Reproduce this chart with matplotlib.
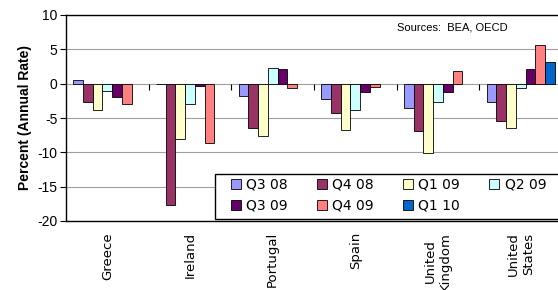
import numpy as np
import matplotlib
matplotlib.use("Agg")
import matplotlib.pyplot as plt
from matplotlib.patches import Rectangle

plt.rcParams["axes.unicode_minus"] = False

countries = ["Greece", "Ireland", "Portugal", "Spain", "United\nKingdom", "United\nStates"]
series_names = ["Q3 08", "Q4 08", "Q1 09", "Q2 09", "Q3 09", "Q4 09", "Q1 10"]
nan = np.nan
q3_08 = [0.5, -0.1, -1.8, -2.3, -3.6, -2.7]
q4_08 = [-2.7, -17.6, -6.4, -4.2, -6.9, -5.4]
q1_09 = [-3.9, -8.0, -7.6, -6.7, -10.1, -6.4]
q2_09 = [-1.1, -2.9, 2.3, -3.8, -2.7, -0.7]
q3_09 = [-1.9, -0.3, 2.2, -1.2, -1.2, 2.2]
q4_09 = [-3.0, -8.6, -0.7, -0.55, 1.8, 5.6]
q1_10 = [nan, nan, nan, nan, nan, 3.2]
series = [q3_08, q4_08, q1_09, q2_09, q3_09, q4_09, q1_10]
colors = ["#9999FF", "#993366", "#FFFFCC", "#CCFFFF", "#660066", "#FF8080", "#0066CC"]

W, H = 558, 290
fig = plt.figure(figsize=(W / 100, H / 100), dpi=100)
left, right, top, bottom = 66, 562, 15, 221
ax = fig.add_axes([left / W, 1 - bottom / H, (right - left) / W, (bottom - top) / H])

n = len(series)
gap = 1.5
bw = 1.0 / (n + gap)
x = np.arange(len(countries))
handles = []
for i, (vals, c, name) in enumerate(zip(series, colors, series_names)):
    off = (i - (n - 1) / 2) * bw
    b = ax.bar(x + off, vals, width=bw, color=c, edgecolor="black", linewidth=0.6,
               label=name, zorder=3)
    handles.append(b)

ax.set_xlim(-0.5, len(countries) - 0.5)
ax.set_ylim(-20, 10)
ax.set_yticks(np.arange(-20, 11, 5))
ax.yaxis.grid(True, color="#A0A0A0", linewidth=0.8, zorder=0)
ax.set_axisbelow(True)
for s in ["left", "bottom", "top"]:
    ax.spines[s].set_color("black")
    ax.spines[s].set_linewidth(1.0)
ax.spines["right"].set_visible(False)

ax.tick_params(axis="y", direction="out", length=4, width=0.8, labelsize=10, pad=2)
for t in ax.get_yticklabels():
    t.set_fontfamily("Liberation Sans")
ax.set_xticks(x)
ax.set_xticklabels(countries, rotation=90, fontsize=9.5, family="DejaVu Sans",
                   va="top", ha="center", multialignment="center")
ax.tick_params(axis="x", length=0, pad=8)

# zero line with category-boundary ticks
sec = ax.secondary_xaxis(20 / 30)
sec.set_xticks(np.arange(0.5, len(countries) - 0.5, 1.0))
sec.tick_params(axis="x", direction="out", length=4, width=0.8, labelbottom=False,
                labeltop=False, top=False, bottom=True, colors="black")
sec.spines["bottom"].set_color("black")
sec.spines["bottom"].set_linewidth(0.9)
sec.spines["top"].set_visible(False)
sec.set_zorder(4)

ax.set_ylabel("Percent (Annual Rate)", fontsize=10, fontweight="bold",
              family="Liberation Sans", labelpad=4)

fig.text(397 / W, 1 - 28 / H, "Sources:  BEA, OECD", fontsize=8,
         family="Liberation Sans", ha="left", va="center")

# legend frame (extends past the right edge like the reference)
frame = Rectangle((215 / W, 1 - 219 / H), (570 - 215) / W, (219 - 174) / H,
                  transform=fig.transFigure, facecolor="white", edgecolor="black",
                  linewidth=1.0, zorder=9)
fig.add_artist(frame)

# legend laid out row-major like the reference (matplotlib fills column-major)
order = [0, 4, 1, 5, 2, 6, 3]
leg = fig.legend([handles[i] for i in order], [series_names[i] for i in order],
                 loc="upper left", bbox_to_anchor=(231 / W, 1 - 178 / H),
                 ncol=4, frameon=False,
                 prop={"family": "DejaVu Sans", "size": 10},
                 handlelength=0.7, handleheight=0.7, handletextpad=0.4,
                 borderpad=0, labelspacing=0.47, columnspacing=2.1, borderaxespad=0)
leg.set_zorder(10)

fig.savefig("out.png", dpi=100)
